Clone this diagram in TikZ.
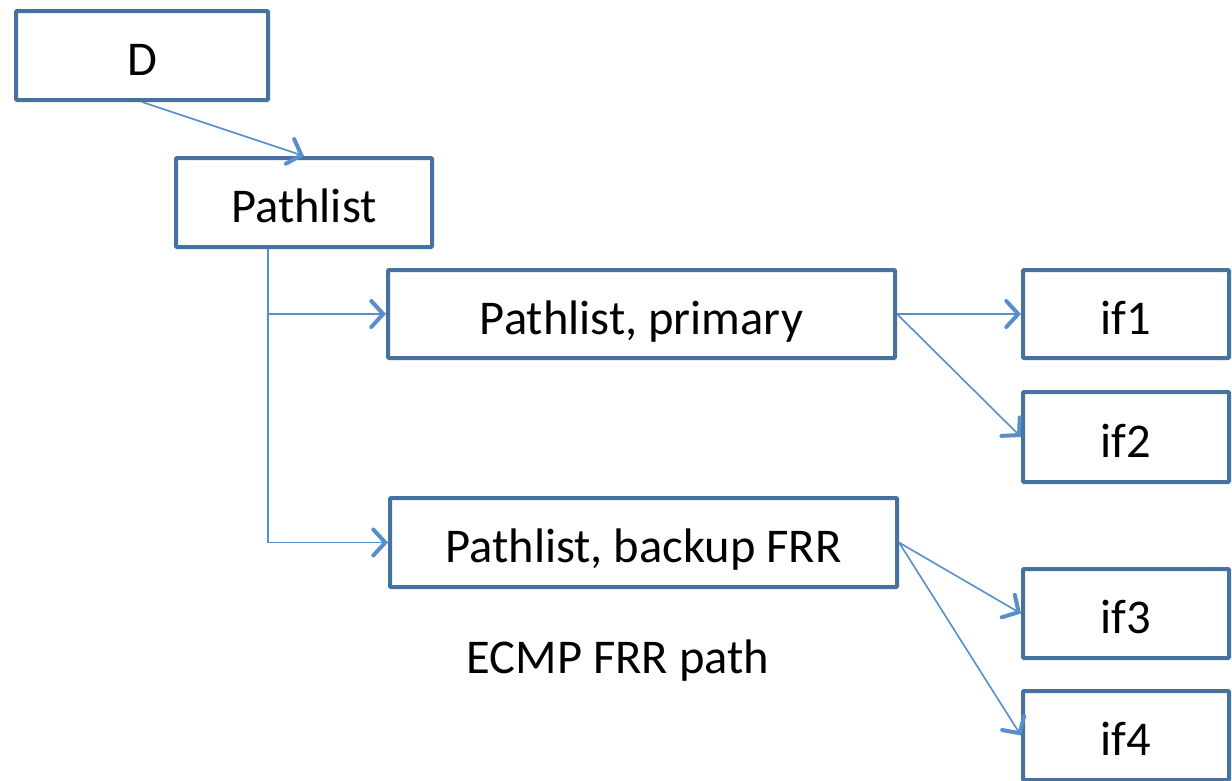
\documentclass[tikz,border=0pt]{standalone}
\usepackage{fontspec}
\setmainfont{Carlito}
\usetikzlibrary{arrows.meta}
\definecolor{boxblue}{RGB}{70,114,160}
\definecolor{linkblue}{RGB}{88,142,202}
\begin{document}
\begin{tikzpicture}[x=1pt,y=-1pt,
  lbl/.style={font=\fontsize{48.5}{52}\selectfont,text=black,text height=40pt,text depth=0pt},
  box/.style={lbl,draw=boxblue,line width=4pt,rectangle,rounded corners=1pt,inner sep=0pt},
  link/.style={draw=linkblue,line width=1.6pt,
    -{Straight Barb[length=12pt,width=26pt,line width=4pt,line cap=round]}}]
\clip (0,0) rectangle (1232,780);
\fill[white] (0,0) rectangle (1232,780);
\node[box,minimum width=252pt,minimum height=89pt] (d) at (142,55.5) {D};
\node[box,minimum width=256pt,minimum height=89pt] (pl) at (304,202.5) {Pathlist};
\node[box,minimum width=507pt,minimum height=88pt] (prim) at (641.5,314) {Pathlist, primary};
\node[box,minimum width=507pt,minimum height=89pt] (back) at (643.5,542.5) {Pathlist, backup FRR};
\node[box,minimum width=206pt,minimum height=88pt] (if1) at (1126,314) {if1};
\node[box,minimum width=206pt,minimum height=90pt] (if2) at (1126,437) {if2};
\node[box,minimum width=206pt,minimum height=89pt] (if3) at (1126,613.5) {if3};
\node[box,minimum width=206pt,minimum height=89pt] (if4) at (1126,735.5) {if4};
\node[lbl] (cap) at (618,653) {ECMP FRR path};
\coordinate (trunk) at (268,249);
\draw[link] (d.south) -- (pl.north);
\draw[link] (trunk) |- (prim.west);
\draw[link] (trunk) |- (back.west);
\draw[link] (prim.east) -- (if1.west);
\draw[link] (prim.east) -- (if2.west);
\draw[link] (back.east) -- (if3.west);
\draw[link] (back.east) -- (if4.west);
\end{tikzpicture}
\end{document}
